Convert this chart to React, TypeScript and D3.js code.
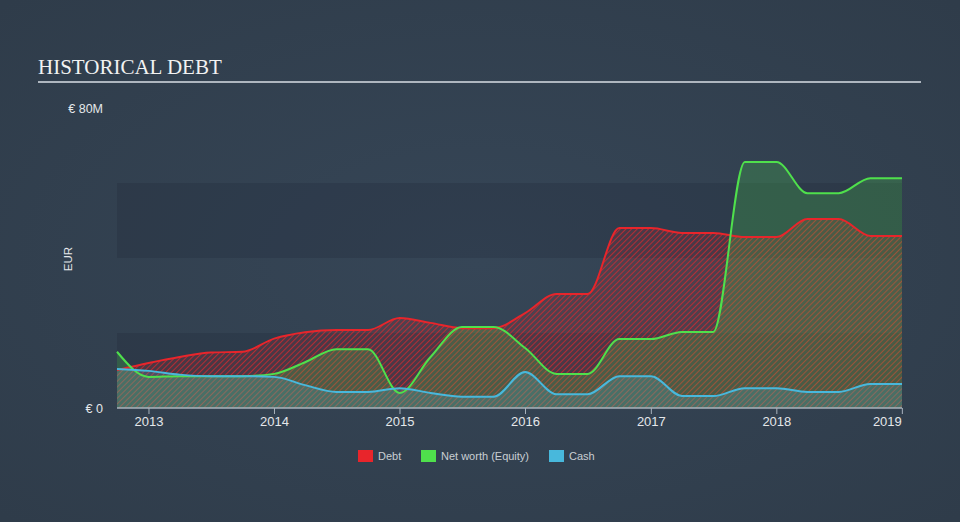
import React from "react";
import * as d3 from "d3";

const dates = [
  "2012-09-30", "2012-12-31", "2013-03-31", "2013-06-30", "2013-09-30", "2013-12-31",
  "2014-03-31", "2014-06-30", "2014-09-30", "2014-12-31", "2015-03-31", "2015-06-30",
  "2015-09-30", "2015-12-31", "2016-03-31", "2016-06-30", "2016-09-30", "2016-12-31",
  "2017-03-31", "2017-06-30", "2017-09-30", "2017-12-31", "2018-03-31", "2018-06-30",
  "2018-09-30", "2018-12-31",
];
const debt = [10.1, 12, 13.6, 14.8, 15, 18.5, 20.2, 20.8, 20.8, 24, 22.7, 21.3, 21.3, 25.3, 30.4, 30.4, 48, 48, 46.7, 46.7, 45.6, 45.6, 50.4, 50.4, 45.9, 45.9];
const equity = [15, 8.3, 8.5, 8.5, 8.5, 9.1, 12.2, 15.7, 15.7, 4.0, 13.6, 21.6, 21.6, 16, 9.1, 9.1, 18.4, 18.4, 20.3, 20.3, 65.6, 65.6, 57.3, 57.3, 61.3, 61.3];
const cash = [10.4, 9.9, 8.9, 8.5, 8.5, 8.3, 6.1, 4.3, 4.3, 5.3, 4.0, 3.0, 3.0, 9.6, 3.7, 3.7, 8.5, 8.5, 3.2, 3.2, 5.3, 5.3, 4.3, 4.3, 6.4, 6.4];
const yearTicks = [2013, 2014, 2015, 2016, 2017, 2018, 2019];
const yLabels = ["€ 0", "€ 80M"];
const yLabelValues = [0, 80];
const bandStarts = [0, 40];

const W = 960;
const H = 522;
const left = 117;
const right = 902;
const top = 108;
const bottom = 408;

const parse = d3.timeParse("%Y-%m-%d");
const parsedDates = dates.map((d) => parse(d) as Date);

const x = d3.scaleTime().domain([parsedDates[0], parsedDates[parsedDates.length - 1]]).range([left, right]);
const y = d3.scaleLinear().domain([0, 80]).range([bottom, top]);

type Pt = { d: Date; v: number };
const toPts = (arr: number[]): Pt[] => arr.map((v, i) => ({ d: parsedDates[i], v }));

const area = d3.area<Pt>().x((p) => x(p.d)).y0(bottom).y1((p) => y(p.v)).curve(d3.curveMonotoneX);
const line = d3.line<Pt>().x((p) => x(p.d)).y((p) => y(p.v)).curve(d3.curveMonotoneX);

const series = [
  { name: "Debt", data: debt, color: "#e8252b" },
  { name: "Net worth (Equity)", data: equity, color: "#4fe04c" },
  { name: "Cash", data: cash, color: "#48b8dc" },
];

const legendX = [358, 421, 549];

export default function App() {
  return (
    <svg width={W} height={H} style={{ display: "block", position: "absolute", left: 0, top: 0 }}>
      <defs>
        <radialGradient id="bg" cx="50%" cy="50%" r="70%">
          <stop offset="0%" stopColor="#364657" />
          <stop offset="100%" stopColor="#2f3c4a" />
        </radialGradient>
        <pattern id="hatchRed" width="4" height="4" patternUnits="userSpaceOnUse" patternTransform="rotate(45)">
          <rect width="4" height="4" fill="rgba(232,37,43,0.15)" />
          <line x1="0" y1="0" x2="0" y2="4" stroke="#e8252b" strokeWidth="1.8" strokeOpacity="0.75" />
        </pattern>
      </defs>
      <rect width={W} height={H} fill="url(#bg)" />
      <text x={38} y={74} fontFamily="'Liberation Serif', 'Times New Roman', serif" fontSize={21} fill="#f2f2f2">
        HISTORICAL DEBT
      </text>
      <line x1={38} x2={921} y1={82} y2={82} stroke="#aeb6bf" strokeWidth={2} />

      {bandStarts.map((b) => (
        <rect key={b} x={left} width={right - left} y={y(b + 20)} height={y(b) - y(b + 20)} fill="rgba(20,30,45,0.18)" />
      ))}

      <path d={area(toPts(debt)) || ""} fill="url(#hatchRed)" />
      <path d={area(toPts(equity)) || ""} fill="#4fe04c" fillOpacity={0.22} />
      <path d={area(toPts(cash)) || ""} fill="#48b8dc" fillOpacity={0.22} />

      {series.map((s) => (
        <path key={s.name} d={line(toPts(s.data)) || ""} fill="none" stroke={s.color} strokeWidth={2} />
      ))}

      <line x1={left} x2={right} y1={bottom} y2={bottom} stroke="#a9b3bd" strokeWidth={1.5} />
      {yearTicks.map((yr) => {
        const xx = x(new Date(yr, 0, 1));
        return (
          <g key={yr}>
            <line x1={xx} x2={xx} y1={bottom} y2={bottom + 6} stroke="#a9b3bd" strokeWidth={1} />
            <text x={yr === 2019 ? xx - 15 : xx} y={426} textAnchor="middle" fontFamily="'Liberation Sans', Arial, sans-serif" fontSize={13} fill="#e4e7ea">
              {yr}
            </text>
          </g>
        );
      })}

      {yLabels.map((l, i) => (
        <text key={l} x={103} y={y(yLabelValues[i]) + 4.5} textAnchor="end" fontFamily="'Liberation Sans', Arial, sans-serif" fontSize={12.5} fill="#e4e7ea">
          {l}
        </text>
      ))}
      <text transform="translate(72,259) rotate(-90)" textAnchor="middle" fontFamily="'Liberation Sans', Arial, sans-serif" fontSize={11.5} fill="#e4e7ea">
        EUR
      </text>

      {series.map((s, i) => (
        <g key={s.name}>
          <rect x={legendX[i]} y={450} width={15} height={12} fill={s.color} />
          <text x={legendX[i] + 20} y={460} fontFamily="'Liberation Sans', Arial, sans-serif" fontSize={11} fill="#c9ced3">
            {s.name}
          </text>
        </g>
      ))}
    </svg>
  );
}
